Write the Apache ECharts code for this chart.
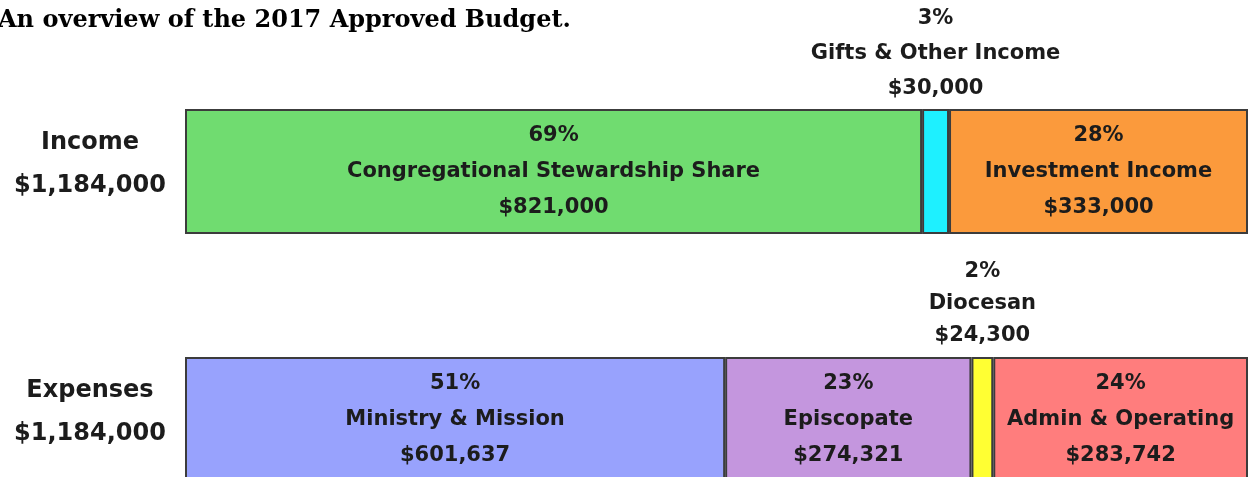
<!DOCTYPE html>
<html>
<head>
<meta charset="utf-8">
<script src="https://cdn.jsdelivr.net/npm/echarts@6/dist/echarts.min.js"></script>
<style>
  html, body { margin: 0; padding: 0; background: #fff; }
  #chart { width: 1248px; height: 477px; }
</style>
</head>
<body>
<div id="chart"></div>
<script>
// budget data
const categories = ['Income', 'Expenses'];
const totals = [1184000, 1184000];

const incomeNames = ['Congregational Stewardship Share', 'Gifts & Other Income', 'Investment Income'];
const incomeValues = [821000, 30000, 333000];
const incomePct = [69, 3, 28];
const incomeColors = ['#70dc70', '#1ef0ff', '#fb9a3c'];

const expenseNames = ['Ministry & Mission', 'Episcopate', 'Diocesan', 'Admin & Operating'];
const expenseValues = [601637, 274321, 24300, 283742];
const expensePct = [51, 23, 2, 24];
const expenseColors = ['#98a2fd', '#c496de', '#ffff33', '#ff7d7d'];

// small slices get their label above the bar
const narrowMax = 50000;

function money(v) {
    return '$' + v.toLocaleString('en-US');
}

function makeSeries(names, values, pct, colors, row) {
    const out = [];
    for (let i = 0; i < names.length; i++) {
        const data = categories.map(function (c, k) { return k === row ? values[i] : '-'; });
        const narrow = values[i] < narrowMax;
        out.push({
            name: names[i],
            type: 'bar',
            stack: 'budget',
            barWidth: 125,
            data: data,
            itemStyle: { color: colors[i], borderColor: '#3c3c3c', borderWidth: 2 },
            label: {
                show: true,
                position: narrow ? 'top' : 'inside',
                distance: row === 0 ? 3 : 5,
                formatter: pct[i] + '%\n' + names[i] + '\n' + money(values[i]),
                fontFamily: 'DejaVu Sans',
                fontWeight: 'bold',
                fontSize: 21,
                lineHeight: narrow ? (row === 0 ? 35 : 32) : 36,
                color: '#1c1c1c',
                align: 'center'
            },
            emphasis: { disabled: true }
        });
    }
    return out;
}

const series = makeSeries(incomeNames, incomeValues, incomePct, incomeColors, 0)
    .concat(makeSeries(expenseNames, expenseValues, expensePct, expenseColors, 1));

const chart = echarts.init(document.getElementById('chart'));
chart.setOption({
    animation: false,
    title: {
        text: 'An overview of the 2017 Approved Budget.',
        left: -2,
        top: 9,
        padding: 0,
        textStyle: {
            fontFamily: 'DejaVu Serif',
            fontWeight: 'bold',
            fontSize: 24,
            color: '#000'
        }
    },
    grid: {
        left: 185,
        right: 0,
        top: 47.5,
        bottom: -66.5,
        outerBoundsMode: 'none'
    },
    xAxis: {
        type: 'value',
        min: 0,
        max: totals[0],
        show: false
    },
    yAxis: {
        type: 'category',
        data: categories,
        inverse: true,
        axisLine: { show: false },
        axisTick: { show: false },
        splitLine: { show: false },
        axisLabel: {
            margin: 95,
            align: 'center',
            fontFamily: 'DejaVu Sans',
            fontWeight: 'bold',
            fontSize: 24,
            lineHeight: 43,
            color: '#1c1c1c',
            // empty short last line lifts the two text lines a little
            formatter: function (v, i) {
                return v + '\n' + money(totals[i]) + '\n{s|}';
            },
            rich: {
                s: { lineHeight: 14, fontSize: 10 }
            }
        }
    },
    series: series
});
</script>
</body>
</html>
